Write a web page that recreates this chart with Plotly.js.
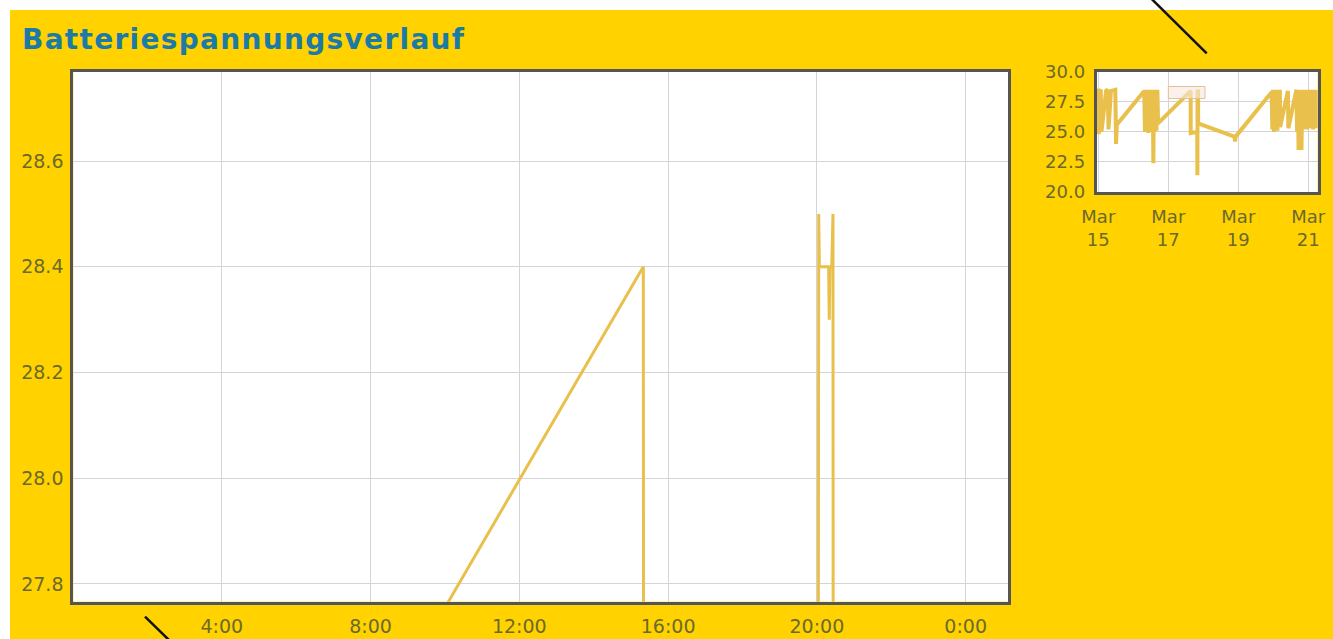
<!DOCTYPE html>
<html>
<head>
<meta charset="utf-8">
<script src="https://cdn.plot.ly/plotly-3.0.1.min.js"></script>
<style>
  html, body { margin:0; padding:0; background:#ffffff; }
  #chart { width:1333px; height:639px; }
  .gtitle { letter-spacing: 1.3px; }
</style>
</head>
<body>
<div id="chart"></div>
<script>
// ---- data ----
const times = [
  '2024-03-14 22:50','2024-03-14 23:50','2024-03-15 00:20','2024-03-15 00:50','2024-03-15 01:40',
  '2024-03-15 02:10','2024-03-15 05:20','2024-03-15 06:30','2024-03-15 07:00','2024-03-15 08:40',
  '2024-03-15 11:40','2024-03-15 12:10','2024-03-15 12:40',
  '2024-03-16 07:30','2024-03-16 08:00','2024-03-16 08:40','2024-03-16 09:10','2024-03-16 09:50',
  '2024-03-16 10:20','2024-03-16 11:00','2024-03-16 11:30','2024-03-16 12:10','2024-03-16 12:40',
  '2024-03-16 13:20','2024-03-16 13:45','2024-03-16 14:10','2024-03-16 14:40','2024-03-16 15:20',
  '2024-03-16 15:50','2024-03-16 16:30','2024-03-16 17:00',
  '2024-03-17 15:20','2024-03-17 15:22','2024-03-17 19:50','2024-03-17 19:57','2024-03-17 20:03',
  '2024-03-17 20:04','2024-03-17 20:19','2024-03-17 20:20','2024-03-17 20:21','2024-03-17 20:24',
  '2024-03-17 20:26','2024-03-17 20:27',
  '2024-03-18 21:20','2024-03-18 21:45','2024-03-18 22:10',
  '2024-03-19 22:50','2024-03-19 23:20','2024-03-19 23:50','2024-03-20 00:30','2024-03-20 01:00',
  '2024-03-20 01:40','2024-03-20 02:10','2024-03-20 02:50','2024-03-20 03:20','2024-03-20 04:00',
  '2024-03-20 04:30','2024-03-20 04:40','2024-03-20 10:00','2024-03-20 10:20','2024-03-20 15:50',
  '2024-03-20 16:20','2024-03-20 16:50','2024-03-20 17:20','2024-03-20 17:50','2024-03-20 18:20',
  '2024-03-20 18:50','2024-03-20 19:20','2024-03-20 19:50','2024-03-20 20:30','2024-03-20 21:40',
  '2024-03-20 22:10','2024-03-20 22:50','2024-03-20 23:20','2024-03-21 00:00','2024-03-21 00:40',
  '2024-03-21 01:20','2024-03-21 02:00','2024-03-21 02:40','2024-03-21 03:20','2024-03-21 04:00',
  '2024-03-21 04:40','2024-03-21 05:20','2024-03-21 06:00','2024-03-21 06:40'
];
const volts = [
  28.4, 28.5, 24.8, 28.4, 28.5,
  25.0, 28.4, 28.5, 25.2, 28.4,
  28.5, 24.0, 25.6,
  28.4, 25.0, 28.5, 25.1, 28.4,
  24.9, 28.5, 25.0, 28.5, 25.2,
  28.4, 22.4, 28.5, 25.0, 28.4,
  25.1, 28.5, 25.7,
  28.4, 24.9, 25.0, 21.4, 28.5,
  28.4, 28.4, 28.3, 28.4, 28.4,
  28.5, 25.7,
  24.6, 24.2, 24.6,
  28.3, 25.2, 28.5, 25.0, 28.4,
  25.3, 28.5, 25.1, 28.4, 25.4,
  28.5, 25.4, 28.4, 25.3, 28.5,
  25.0, 28.4, 23.5, 28.5, 23.6,
  28.4, 23.5, 28.5, 25.2, 28.5,
  25.3, 28.4, 25.2, 28.5, 25.4,
  28.4, 25.3, 28.5, 25.2, 28.4,
  25.4, 28.5, 25.3, 28.4
];

const titleText = 'Batteriespannungsverlauf';
const mainXRange = ['2024-03-17 00:00:30', '2024-03-18 01:08:48'];
const mainYRange = [27.7665, 28.769];
const miniXRange = ['2024-03-14 22:54', '2024-03-21 06:27'];
const miniYRange = [20, 30];
const miniTickVals = ['2024-03-15', '2024-03-17', '2024-03-19', '2024-03-21'];
const miniTickLabels = ['Mar<br>15', 'Mar<br>17', 'Mar<br>19', 'Mar<br>21'];

// ---- styling ----
const W = 1333, H = 639;
const px = v => v / W;
const py = v => 1 - v / H;
const yellow = '#FFD200';
const lineColor = '#E9C04C';
const tickColor = '#6B692D';
const borderColor = '#555555';
const gridColor = '#D4D4D4';
const fontFam = 'DejaVu Sans, Verdana, sans-serif';

const traces = [
  { x: times, y: volts, type: 'scatter', mode: 'lines', xaxis: 'x', yaxis: 'y',
    line: { color: lineColor, width: 3 }, hoverinfo: 'x+y' },
  { x: times, y: volts, type: 'scatter', mode: 'lines', xaxis: 'x2', yaxis: 'y2',
    line: { color: lineColor, width: 4 }, hoverinfo: 'x+y' }
];

const axisCommon = {
  showline: true, mirror: true, linecolor: borderColor, linewidth: 3,
  showgrid: true, gridcolor: gridColor, gridwidth: 1, zeroline: false,
  ticks: '', tickfont: { family: fontFam, size: 19, color: tickColor },
  fixedrange: true
};

const layout = {
  width: W, height: H,
  margin: { l: 0, r: 0, t: 0, b: 0, pad: 0 },
  paper_bgcolor: yellow, plot_bgcolor: '#FFFFFF',
  showlegend: false,
  title: { text: titleText, x: px(22), xanchor: 'left', xref: 'container',
           y: py(39), yanchor: 'middle', yref: 'container',
           font: { family: fontFam, size: 28, color: '#1B7AA6', weight: 'bold' } },
  xaxis: Object.assign({}, axisCommon, {
    domain: [px(73.3), px(1008.3)], anchor: 'y', type: 'date', range: mainXRange,
    tick0: '2024-03-17 00:00', dtick: 4 * 3600000, tickformat: '%-H:%M',
    ticklabelstandoff: 5
  }),
  yaxis: Object.assign({}, axisCommon, {
    domain: [py(601.7), py(71.7)], anchor: 'x', range: mainYRange,
    tick0: 0, dtick: 0.2, tickformat: '.1f', ticklabelstandoff: 3
  }),
  xaxis2: Object.assign({}, axisCommon, {
    domain: [px(1096.7), px(1317.7)], anchor: 'y2', type: 'date', range: miniXRange,
    tickmode: 'array', tickvals: miniTickVals, ticktext: miniTickLabels,
    tickfont: { family: fontFam, size: 18, color: tickColor }, ticklabelstandoff: 6
  }),
  yaxis2: Object.assign({}, axisCommon, {
    domain: [py(192), py(71.7)], anchor: 'x2', range: miniYRange,
    tick0: 20, dtick: 2.5, tickformat: '.1f',
    tickfont: { family: fontFam, size: 18, color: tickColor }, ticklabelstandoff: 5
  }),
  shapes: [
    // white page strips above and left of the yellow panel
    { type: 'rect', xref: 'paper', yref: 'paper', x0: 0, x1: 1, y0: py(10), y1: 1,
      fillcolor: '#FFFFFF', line: { width: 0 }, layer: 'above' },
    { type: 'rect', xref: 'paper', yref: 'paper', x0: 0, x1: px(10), y0: 0, y1: 1,
      fillcolor: '#FFFFFF', line: { width: 0 }, layer: 'above' },
    // range highlight inside the overview chart
    { type: 'rect', xref: 'x2', yref: 'y2', x0: mainXRange[0], x1: mainXRange[1],
      y0: mainYRange[0], y1: mainYRange[1],
      fillcolor: 'rgba(246,232,224,0.6)', line: { color: 'rgba(228,192,150,1)', width: 1 }, layer: 'above' },
    // black pointer strokes
    { type: 'line', xref: 'paper', yref: 'paper', x0: px(1151.7), y0: py(-1), x1: px(1206.7), y1: py(53.3),
      line: { color: '#111111', width: 2.5 } },
    { type: 'line', xref: 'paper', yref: 'paper', x0: px(145), y0: py(616.7), x1: px(170), y1: py(641),
      line: { color: '#111111', width: 2.5 } }
  ]
};

Plotly.newPlot('chart', traces, layout, { displayModeBar: false, staticPlot: true });
</script>
</body>
</html>
